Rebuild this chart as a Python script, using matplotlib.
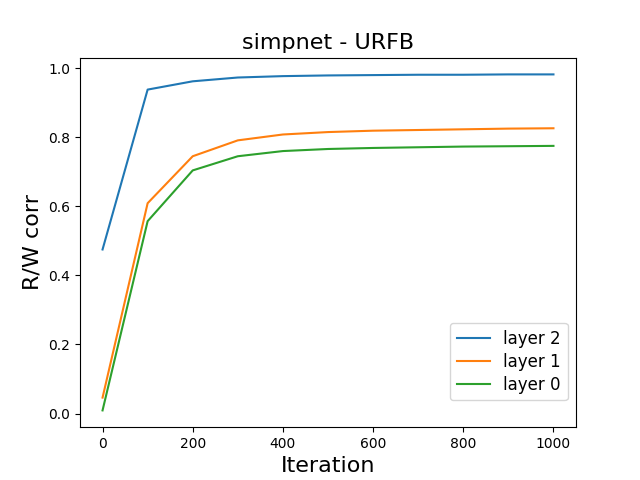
import numpy as np
from matplotlib import pyplot as plt

iterations = [0, 100, 200, 300, 400, 500, 600, 700, 800, 900, 1000]
layer2 = [0.475, 0.938, 0.962, 0.973, 0.977, 0.979, 0.980, 0.981, 0.981, 0.982, 0.982]
layer1 = [0.046, 0.609, 0.745, 0.791, 0.808, 0.815, 0.819, 0.821, 0.823, 0.825, 0.826]
layer0 = [0.009, 0.557, 0.704, 0.745, 0.760, 0.766, 0.769, 0.771, 0.773, 0.774, 0.775]

fig, ax = plt.subplots(figsize=(6.4, 4.8), dpi=100)
ax.plot(iterations, layer2, label='layer 2')
ax.plot(iterations, layer1, label='layer 1')
ax.plot(iterations, layer0, label='layer 0')
ax.set_title('simpnet - URFB', fontsize=16)
ax.set_xlabel('Iteration', fontsize=16)
ax.set_ylabel('R/W corr', fontsize=16)
# legend sits a bit above the bottom, rows tighter than default
ax.legend(loc='lower right', fontsize=12, labelspacing=0.3,
          bbox_to_anchor=(1, 0.05))
fig.savefig('out.png')
